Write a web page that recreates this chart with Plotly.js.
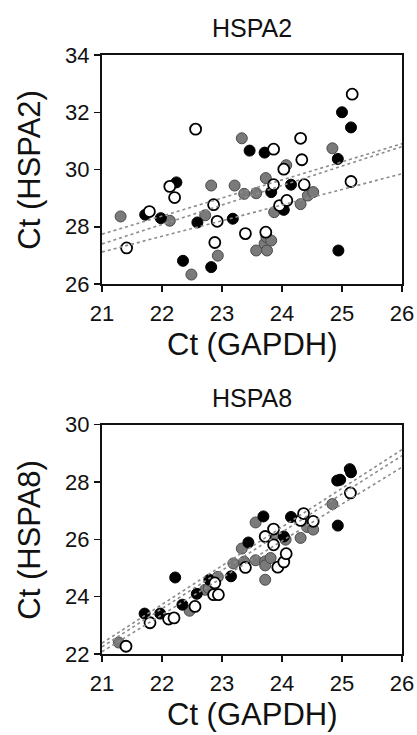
<!DOCTYPE html>
<html>
<head>
<meta charset="utf-8">
<script src="https://cdn.plot.ly/plotly-3.0.1.min.js"></script>
<style>html,body{margin:0;padding:0;background:#fff;}#chart{width:417px;height:735px;}</style>
</head>
<body>
<div id="chart"></div>
<script>
// ---------- HSPA2 panel data ----------
const grayTopX = [21.31, 22.13, 22.49, 22.72, 22.82, 22.93, 23.21, 23.33, 23.37, 23.57, 23.57, 23.73, 23.71, 23.75, 23.74, 23.82, 23.87, 24.07, 24.31, 24.43, 24.52, 24.84];
const grayTopY = [28.36, 28.21, 26.33, 28.40, 29.44, 26.99, 29.44, 31.09, 29.15, 29.17, 27.17, 29.70, 27.41, 27.17, 27.64, 27.52, 28.51, 30.15, 28.79, 29.09, 29.21, 30.74];
const blackTopX = [21.72, 21.98, 22.24, 22.35, 22.59, 22.82, 23.18, 23.46, 23.71, 23.82, 24.03, 24.15, 24.93, 25.00, 24.94, 25.15];
const blackTopY = [28.42, 28.30, 29.55, 26.81, 28.15, 26.59, 28.28, 30.66, 30.59, 29.21, 28.59, 29.47, 30.37, 32.00, 27.17, 31.47];
const openTopX = [21.41, 21.79, 22.13, 22.21, 22.56, 22.86, 22.92, 22.88, 23.39, 23.73, 23.86, 23.86, 23.96, 24.03, 24.08, 24.31, 24.33, 24.37, 25.15, 25.17];
const openTopY = [27.26, 28.53, 29.41, 29.02, 31.41, 28.77, 28.19, 27.45, 27.76, 27.81, 30.71, 29.47, 28.74, 30.01, 28.92, 31.09, 30.34, 29.47, 29.58, 32.63];

// ---------- HSPA8 panel data ----------
const grayBotX = [21.28, 22.46, 22.72, 22.78, 22.93, 23.19, 23.33, 23.37, 23.56, 23.56, 23.72, 23.72, 23.81, 23.72, 23.86, 24.06, 24.31, 24.42, 24.52, 24.84];
const grayBotY = [22.40, 23.51, 24.24, 24.30, 24.69, 25.16, 25.68, 25.22, 25.27, 26.59, 25.23, 25.09, 25.35, 24.59, 26.14, 25.99, 26.05, 26.43, 26.34, 27.23];
const blackBotX = [21.71, 21.97, 22.22, 22.34, 22.58, 22.79, 23.15, 23.44, 23.69, 24.03, 24.15, 24.92, 24.97, 24.93, 25.13, 25.15];
const blackBotY = [23.41, 23.41, 24.67, 23.72, 24.10, 24.59, 24.71, 25.89, 26.80, 26.10, 26.78, 28.05, 28.08, 26.48, 28.45, 28.34];
const openBotX = [21.40, 21.80, 22.11, 22.20, 22.55, 22.86, 22.94, 22.88, 23.39, 23.72, 23.86, 23.86, 23.93, 24.03, 24.07, 24.31, 24.36, 24.52, 25.14];
const openBotY = [22.27, 23.09, 23.22, 23.26, 23.66, 24.07, 24.07, 24.48, 25.02, 26.10, 26.36, 25.81, 25.03, 25.21, 25.50, 26.66, 26.90, 26.63, 27.62];

// ---------- fitted regression lines (values at x = 21 and x = 26) ----------
const fitX = [21, 26];
const fitTopA = [27.74, 30.90];
const fitTopB = [27.40, 30.80];
const fitTopC = [27.12, 29.85];
const fitBotA = [22.38, 29.13];
const fitBotB = [22.25, 28.92];
const fitBotC = [22.08, 28.52];

// ---------- tick labels ----------
const xTicks = [21, 22, 23, 24, 25, 26];
const yTicksTop = [26, 28, 30, 32, 34];
const yTicksBot = [22, 24, 26, 28, 30];

const FONT = 'Liberation Sans, Arial, sans-serif';
const grayMarker = {size: 11, color: '#7a7a7a', line: {color: '#4a4a4a', width: 1}};
const blackMarker = {size: 11, color: '#000000', line: {color: '#000000', width: 1}};
const openMarker = {size: 11, color: '#ffffff', line: {color: '#000000', width: 1.8}};
const fitLine = {color: '#8c8c8c', width: 1.6, dash: 'dot'};

function pts(x, y, marker, xa, ya) {
  return {x: x, y: y, xaxis: xa, yaxis: ya, type: 'scatter', mode: 'markers', marker: marker, hoverinfo: 'skip', cliponaxis: false};
}
function fit(y, xa, ya) {
  return {x: fitX, y: y, xaxis: xa, yaxis: ya, type: 'scatter', mode: 'lines', line: fitLine, hoverinfo: 'skip'};
}

const data = [
  pts(grayTopX, grayTopY, grayMarker, 'x', 'y'),
  pts(blackTopX, blackTopY, blackMarker, 'x', 'y'),
  pts(openTopX, openTopY, openMarker, 'x', 'y'),
  fit(fitTopA, 'x', 'y'), fit(fitTopB, 'x', 'y'), fit(fitTopC, 'x', 'y'),
  pts(grayBotX, grayBotY, grayMarker, 'x2', 'y2'),
  pts(blackBotX, blackBotY, blackMarker, 'x2', 'y2'),
  pts(openBotX, openBotY, openMarker, 'x2', 'y2'),
  fit(fitBotA, 'x2', 'y2'), fit(fitBotB, 'x2', 'y2'), fit(fitBotC, 'x2', 'y2')
];

const axisCommon = {
  showgrid: false, zeroline: false, showline: true, linecolor: '#111', linewidth: 2, mirror: true,
  ticks: 'outside', ticklen: 6, tickwidth: 1.5, tickcolor: '#111',
  tickfont: {family: FONT, size: 22, color: '#111'}, fixedrange: true
};

const layout = {
  width: 417, height: 735,
  margin: {l: 102, r: 15, t: 55, b: 81},
  paper_bgcolor: '#fff', plot_bgcolor: '#fff',
  showlegend: false,
  font: {family: FONT, color: '#111'},
  xaxis: Object.assign({}, axisCommon, {range: [21, 26], tickvals: xTicks, anchor: 'y', domain: [0, 1], ticklabelstandoff: 3}),
  yaxis: Object.assign({}, axisCommon, {range: [26, 34], tickvals: yTicksTop, anchor: 'x', domain: [0.6177, 1]}),
  xaxis2: Object.assign({}, axisCommon, {range: [21, 26], tickvals: xTicks, anchor: 'y2', domain: [0, 1], ticklabelstandoff: 3}),
  yaxis2: Object.assign({}, axisCommon, {range: [22, 30], tickvals: yTicksBot, anchor: 'x2', domain: [0, 0.3828]}),
  annotations: [
    {text: 'HSPA2', xref: 'paper', yref: 'paper', x: 0.5, y: 1.0456, xanchor: 'center', yanchor: 'middle', showarrow: false, font: {size: 25, family: FONT, color: '#111'}},
    {text: 'HSPA8', xref: 'paper', yref: 'paper', x: 0.5, y: 0.428, xanchor: 'center', yanchor: 'middle', showarrow: false, font: {size: 25, family: FONT, color: '#111'}},
    {text: 'Ct (GAPDH)', xref: 'paper', yref: 'paper', x: 0.5, y: 0.5164, xanchor: 'center', yanchor: 'middle', showarrow: false, font: {size: 31, family: FONT, color: '#111'}},
    {text: 'Ct (GAPDH)', xref: 'paper', yref: 'paper', x: 0.5, y: -0.1013, xanchor: 'center', yanchor: 'middle', showarrow: false, font: {size: 31, family: FONT, color: '#111'}},
    {text: 'Ct (HSPA2)', xref: 'paper', yref: 'paper', x: -0.24, y: 0.8085, xanchor: 'center', yanchor: 'middle', textangle: -90, showarrow: false, font: {size: 31, family: FONT, color: '#111'}},
    {text: 'Ct (HSPA8)', xref: 'paper', yref: 'paper', x: -0.24, y: 0.1908, xanchor: 'center', yanchor: 'middle', textangle: -90, showarrow: false, font: {size: 31, family: FONT, color: '#111'}}
  ]
};

Plotly.newPlot('chart', data, layout, {staticPlot: true, displayModeBar: false});
</script>
</body>
</html>
